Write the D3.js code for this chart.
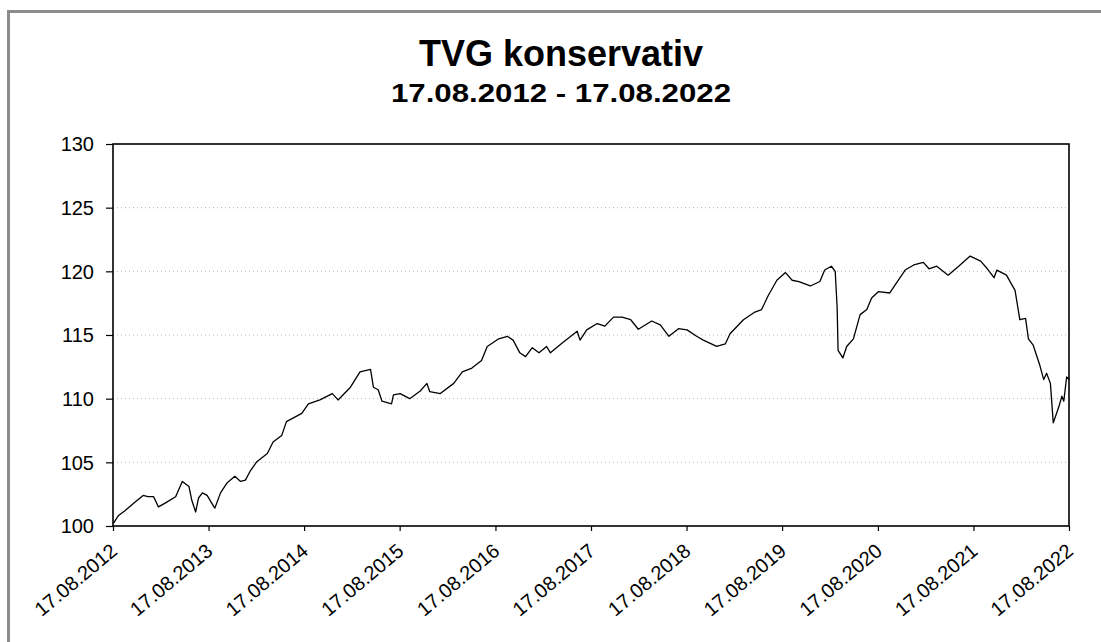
<!DOCTYPE html>
<html>
<head>
<meta charset="utf-8">
<script src="https://cdn.jsdelivr.net/npm/d3@7"></script>
<style>
html,body{margin:0;padding:0;background:#fff;overflow:hidden;}
svg{display:block;font-family:"Liberation Sans",Arial,sans-serif;}
</style>
</head>
<body>
<svg id="chart" width="1101" height="642"></svg>
<script>
const title = "TVG konservativ";
const subtitle = "17.08.2012 - 17.08.2022";
const yTicks = [100, 105, 110, 115, 120, 125, 130];
const xTickLabels = ["17.08.2012","17.08.2013","17.08.2014","17.08.2015","17.08.2016","17.08.2017","17.08.2018","17.08.2019","17.08.2020","17.08.2021","17.08.2022"];
// decimal years
const dates = [2012.63,2012.68,2012.75,2012.86,2012.94,2012.99,2013.05,2013.10,2013.17,2013.28,2013.35,2013.42,2013.45,2013.49,2013.52,2013.56,2013.61,2013.65,2013.69,2013.75,2013.82,2013.90,2013.96,2014.01,2014.06,2014.13,2014.24,2014.30,2014.39,2014.44,2014.60,2014.67,2014.79,2014.92,2014.98,2015.11,2015.21,2015.32,2015.35,2015.40,2015.44,2015.54,2015.56,2015.63,2015.73,2015.84,2015.91,2015.94,2016.05,2016.19,2016.28,2016.38,2016.48,2016.54,2016.66,2016.75,2016.81,2016.88,2016.94,2017.01,2017.08,2017.16,2017.20,2017.32,2017.48,2017.51,2017.58,2017.69,2017.77,2017.86,2017.95,2018.04,2018.12,2018.26,2018.35,2018.44,2018.54,2018.63,2018.73,2018.80,2018.94,2019.03,2019.08,2019.22,2019.34,2019.41,2019.48,2019.57,2019.66,2019.73,2019.80,2019.92,2020.02,2020.07,2020.14,2020.18,2020.20,2020.21,2020.26,2020.30,2020.37,2020.44,2020.51,2020.56,2020.63,2020.75,2020.82,2020.91,2021.00,2021.10,2021.16,2021.24,2021.36,2021.47,2021.59,2021.70,2021.77,2021.84,2021.87,2021.97,2022.06,2022.11,2022.17,2022.20,2022.25,2022.32,2022.36,2022.39,2022.43,2022.46,2022.52,2022.55,2022.57,2022.60,2022.63];
const values = [100.2,100.8,101.2,101.9,102.4,102.3,102.3,101.5,101.8,102.3,103.5,103.1,102.0,101.1,102.2,102.6,102.4,101.9,101.4,102.6,103.4,103.9,103.5,103.6,104.3,105.05,105.7,106.6,107.1,108.2,108.85,109.6,109.9,110.4,109.9,110.9,112.1,112.3,110.9,110.7,109.8,109.6,110.3,110.4,110.0,110.6,111.2,110.55,110.4,111.2,112.1,112.4,113.0,114.1,114.7,114.9,114.6,113.6,113.3,114.0,113.6,114.1,113.6,114.35,115.3,114.6,115.4,115.9,115.7,116.4,116.4,116.2,115.45,116.1,115.8,114.9,115.5,115.4,114.9,114.6,114.1,114.3,115.1,116.2,116.8,117.0,118.1,119.3,119.9,119.3,119.2,118.85,119.2,120.1,120.4,120.0,117.2,113.8,113.2,114.1,114.7,116.6,117.0,117.9,118.4,118.3,119.1,120.1,120.5,120.7,120.2,120.4,119.7,120.4,121.2,120.8,120.2,119.5,120.1,119.7,118.5,116.2,116.3,114.7,114.2,112.6,111.5,112.0,111.2,108.1,109.4,110.2,109.8,111.7,111.5];

function decToDate(d){
  const y = Math.floor(d);
  const start = Date.UTC(y,0,1), end = Date.UTC(y+1,0,1);
  return new Date(start + (d - y) * (end - start));
}
const parse = d3.utcParse("%d.%m.%Y");
const data = dates.map((d,i)=>({date: decToDate(d), value: values[i]}));
const tickDates = xTickLabels.map(parse);

const svg = d3.select("#chart");
const W = 1101, H = 642;
const m = {left:113, right:1069, top:144, bottom:526};

// outer frame
svg.append("rect").attr("x",8.5).attr("y",11.5).attr("width",1200).attr("height",800)
  .attr("fill","none").attr("stroke","#8c8c8c").attr("stroke-width",3);

const x = d3.scaleUtc().domain([tickDates[0], tickDates[tickDates.length-1]]).range([m.left, m.right]);
const y = d3.scaleLinear().domain([100,130]).range([m.bottom, m.top]);

// titles
svg.append("text").attr("x",561).attr("y",66).attr("text-anchor","middle")
  .attr("font-size",36).attr("font-weight","bold").attr("fill","#000").text(title);
svg.append("text").attr("x",561).attr("y",101.5).attr("text-anchor","middle")
  .attr("font-size",26).attr("font-weight","bold").attr("fill","#000")
  .attr("textLength",340).attr("lengthAdjust","spacingAndGlyphs").text(subtitle);

// gridlines
svg.append("g").selectAll("line").data(yTicks.filter(t=>t>100 && t<130)).join("line")
  .attr("x1",m.left).attr("x2",m.right).attr("y1",d=>y(d)).attr("y2",d=>y(d))
  .attr("stroke","#b5b5b5").attr("stroke-width",1).attr("stroke-dasharray","1,3");

// y axis
const yAxis = d3.axisLeft(y).tickValues(yTicks).tickSize(7).tickPadding(12).tickFormat(d3.format("d"));
const gy = svg.append("g").attr("transform",`translate(${m.left},0)`).call(yAxis);
gy.select(".domain").remove();
gy.selectAll(".tick line").attr("stroke","#000").attr("stroke-width",1.2);
gy.selectAll(".tick text").attr("font-size",20).attr("font-family","Liberation Sans, Arial, sans-serif").attr("fill","#000").attr("dy","0.34em");

// x axis
const xAxis = d3.axisBottom(x).tickValues(tickDates).tickSize(5).tickFormat((d,i)=>xTickLabels[i]);
const gx = svg.append("g").attr("transform",`translate(0,${m.bottom})`).call(xAxis);
gx.select(".domain").remove();
gx.selectAll(".tick line").attr("stroke","#000").attr("stroke-width",1.2);
gx.selectAll(".tick text").attr("font-size",20).attr("font-family","Liberation Sans, Arial, sans-serif")
  .attr("fill","#000").attr("text-anchor","end").attr("y",0).attr("dy",0)
  .attr("transform","translate(5,27) rotate(-40)");

// plot box
svg.append("rect").attr("x",m.left).attr("y",m.top).attr("width",m.right-m.left).attr("height",m.bottom-m.top)
  .attr("fill","none").attr("stroke","#000").attr("stroke-width",1.6);

// line
const line = d3.line().x(d=>x(d.date)).y(d=>y(d.value));
svg.append("path").datum(data).attr("d",line).attr("fill","none").attr("stroke","#000").attr("stroke-width",1.3).attr("stroke-linejoin","round");
</script>
</body>
</html>
